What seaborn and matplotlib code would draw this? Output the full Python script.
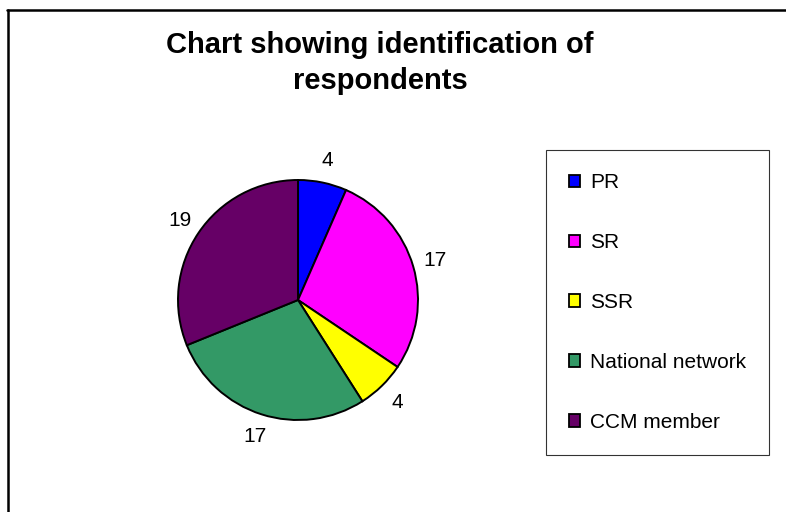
import matplotlib.pyplot as plt
import seaborn as sns
from matplotlib.lines import Line2D
from matplotlib.patches import Patch

categories = ["PR", "SR", "SSR", "National network", "CCM member"]
counts = [4, 17, 4, 17, 19]
colors = ["#0000FF", "#FF00FF", "#FFFF00", "#339966", "#660066"]
title = "Chart showing identification of\nrespondents"

sns.set_style("white")
plt.rcParams["font.family"] = ["Liberation Sans", "DejaVu Sans"]
plt.rcParams["text.color"] = "black"

W, H = 786, 512
fig = plt.figure(figsize=(W / 100, H / 100), dpi=100)

# pie centred at (298, 300) px with radius 120 px
cx, cy, r = 298, 300, 120
ax = fig.add_axes([(cx - r) / W, (H - cy - r) / H, 2 * r / W, 2 * r / H])
wedges, texts = ax.pie(counts, colors=colors, labels=[str(c) for c in counts],
                       startangle=90, counterclock=False, labeldistance=1.19,
                       wedgeprops={"edgecolor": "black", "linewidth": 1.4},
                       textprops={"fontsize": 15, "color": "black"})
for t in texts:
    t.set_ha("center")
    t.set_va("center")
for w in wedges:
    w.set_clip_on(False)
ax.set_xlim(-1, 1)
ax.set_ylim(-1, 1)
ax.set_aspect("equal")
ax.axis("off")

handles = [Patch(facecolor=c, edgecolor="black", linewidth=1.3) for c in colors]
leg = fig.legend(handles, categories, loc="center",
                 bbox_to_anchor=(657.5 / W, 1 - 302.5 / H),
                 fontsize=15, frameon=True, fancybox=False,
                 borderpad=1.12, labelspacing=1.96, handlelength=0.55,
                 handleheight=0.55, handletextpad=0.45)
leg.get_frame().set_edgecolor("black")
leg.get_frame().set_linewidth(0.8)
for t in leg.get_texts():
    t.set_color("black")

fig.text(380 / W, 1 - 63 / H, title, ha="center", va="center", color="black",
         fontsize=21, fontweight="bold", linespacing=1.33)

# chart area border (top and left edges visible)
fig.add_artist(Line2D([7 / W, 1], [1 - 10 / H, 1 - 10 / H], color="black", lw=1.8))
fig.add_artist(Line2D([8 / W, 8 / W], [0, 1 - 10 / H], color="black", lw=1.8))

fig.savefig("out.png", dpi=100, facecolor="white")
